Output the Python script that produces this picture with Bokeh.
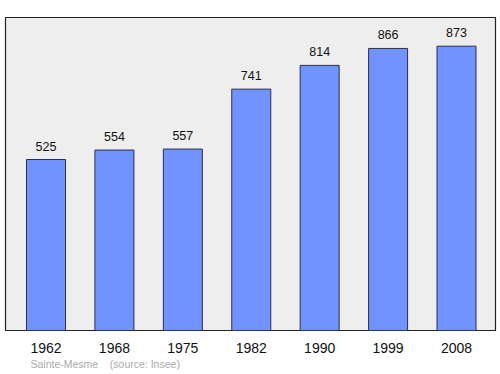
from bokeh.plotting import figure
from bokeh.models import FixedTicker, Range1d, Title, ColumnDataSource
from bokeh.embed import file_html
from bokeh.resources import INLINE
from bokeh.core.properties import value

years = ["1962", "1968", "1975", "1982", "1990", "1999", "2008"]
population = [525, 554, 557, 741, 814, 866, 873]
positions = list(range(len(years)))

src = ColumnDataSource(dict(x=positions, top=population,
                            label=[str(v) for v in population]))

p = figure(width=500, height=374, output_backend="svg", toolbar_location=None,
           x_range=Range1d(-0.592, 6.57), y_range=Range1d(0, 961),
           min_border_left=5, min_border_right=5, min_border_top=17,
           min_border_bottom=44)
p.background_fill_color = "#eeeeee"
p.border_fill_color = "white"
p.outline_line_color = "#222222"
p.outline_line_width = 1.2
p.grid.visible = False
p.yaxis.visible = False

p.vbar(x="x", top="top", bottom=0, width=0.57, source=src,
       fill_color="#7093ff", line_color="#2a2f4a", line_width=1)
p.text(x="x", y="top", text="label", source=src, text_align="center",
       text_baseline="bottom", y_offset=-9, text_font=value("Liberation Sans"),
       text_font_size="12.5px", text_color="#111111")

ax = p.xaxis[0]
ax.ticker = FixedTicker(ticks=positions)
ax.major_label_overrides = {i: y for i, y in zip(positions, years)}
ax.axis_line_color = None
ax.major_tick_line_color = None
ax.minor_tick_line_color = None
ax.major_label_text_font = "Liberation Sans"
ax.major_label_text_font_size = "14px"
ax.major_label_text_color = "#111111"
ax.major_label_standoff = 6

src_title = Title(text="Sainte-Mesme\u00a0\u00a0\u00a0\u00a0(source: Insee)", align="left",
                  offset=25, standoff=0, text_font="Liberation Sans",
                  text_font_size="10.5px", text_font_style="normal",
                  text_color="#aaaaaa")
p.add_layout(src_title, "below")

open("out.html", "w").write(file_html(p, INLINE))
